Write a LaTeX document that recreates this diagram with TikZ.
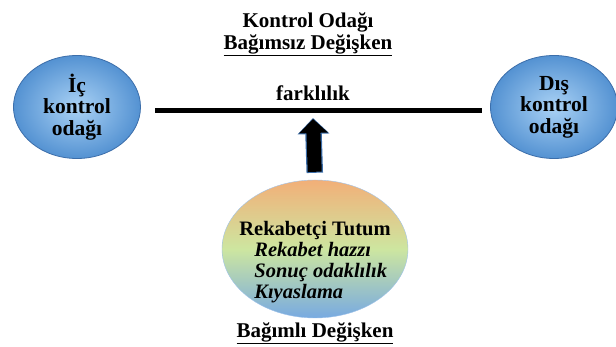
\documentclass[tikz,border=0pt]{standalone}
\usepackage{fontspec}
\setmainfont{Liberation Serif}
\usepackage{tikz}
\usetikzlibrary{arrows.meta,shapes.geometric,positioning}
\definecolor{locblue}{RGB}{84,146,210}
\definecolor{locblueL}{RGB}{170,210,245}
\definecolor{locedge}{RGB}{60,110,170}
\definecolor{rkorange}{RGB}{242,175,120}
\definecolor{rkgreen}{RGB}{205,230,160}
\definecolor{rkblue}{RGB}{120,170,225}

\begin{document}
\begin{tikzpicture}[x=1pt,y=1pt,node distance=477pt,on grid, >=Stealth,
    every node/.style={font=\bfseries\fontsize{21}{21}\selectfont},
    locus/.style={ellipse,draw=locedge,thick,inner color=locblueL,outer color=locblue,minimum width=127pt,minimum height=103pt,inner sep=0pt,align=center,font=\bfseries\fontsize{21.5}{21.5}\selectfont},
    tutum/.style={ellipse,draw=rkblue!70,shading=axis,top color=rkorange,bottom color=rkblue,middle color=rkgreen,minimum width=186pt,minimum height=138pt,inner sep=0pt},
    metin/.style={align=left,font=\bfseries\fontsize{20.5}{21}\selectfont}]
        \useasboundingbox (0,0) rectangle (616,347);
        \node[locus]   (ic)  at (77,240)          {İç\\kontrol\\odağı};
        \node[locus]   (dis) [right of = ic]      {Dış\\kontrol\\odağı};
        \node[tutum]   (rk)  at (315,98)          {};
        \node[metin]   (rkmetin) at ([yshift=-13pt]rk.center) {Rekabetçi Tutum\\\hspace*{15pt}\textit{Rekabet hazzı}\\\hspace*{15pt}\textit{Sonuç odaklılık}\\\hspace*{15pt}\textit{Kıyaslama}};
        \node          (baslik)   at (308,325)    {Kontrol Odağı};
        \node          (bagimsiz) [below=23pt of baslik] {\underline{Bağımsız Değişken}};
        \node          (fark)     at (313,254)    {farklılık};
        \node          (bagimli)  at (315,14)     {\underline{Bağımlı Değişken}};
        \coordinate    (cizgiL)   at (155,236);
        \coordinate    (cizgiR)   at (482,236);
        \coordinate    (okucu)    at (313,228);
        \draw[line width=5pt] (cizgiL) -- (cizgiR);
        \draw[locedge,line width=16.5pt,-{Triangle[length=16pt,width=31pt]},shorten <=7pt] (rk.north) -- ([yshift=1pt]okucu);
        \draw[black,line width=14pt,-{Triangle[length=14pt,width=28pt]},shorten <=8pt] (rk.north) -- (okucu);
\end{tikzpicture}
\end{document}
